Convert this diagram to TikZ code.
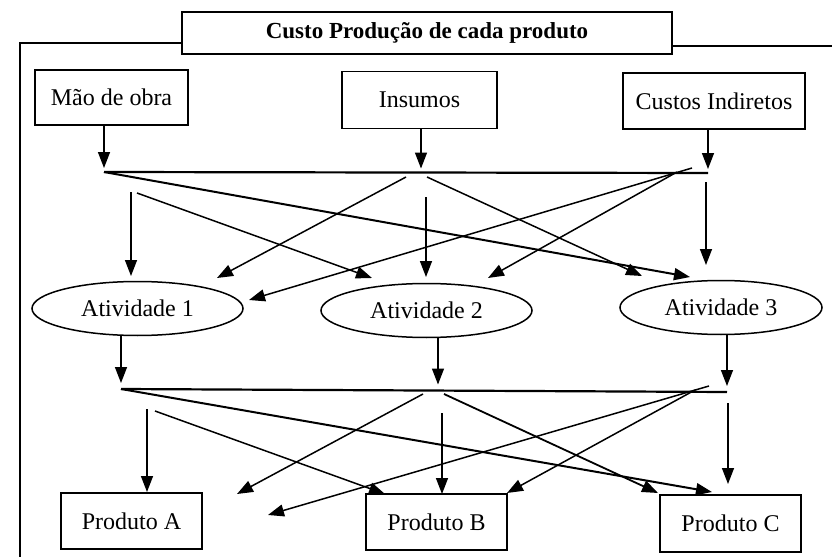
\documentclass[tikz,border=0pt]{standalone}
\usepackage{fontspec}
\setmainfont{Liberation Serif}
\usetikzlibrary{arrows.meta,shapes.geometric,positioning}

\tikzset{
	caixa/.style={draw, line width=0.75pt, inner sep=0pt},
	ativ/.style={draw, ellipse, line width=0.75pt, inner sep=0pt, minimum width=105.5pt, minimum height=27pt},
	seta/.style={-{Triangle[length=8pt,width=6pt]}, line width=0.75pt},
	barra/.style={line width=1.1pt}
}

\begin{document}
\begin{tikzpicture}[x=0.5pt, y=-0.5pt, font=\fontsize{12}{14}\selectfont]
			\useasboundingbox (0, 0) rectangle (832, 557);
			\node [caixa, minimum width=245pt, minimum height=21pt, font=\fontsize{11.5}{14}\selectfont\bfseries] (titulo) at (427, 33) {Custo Produção de cada produto};
			\coordinate (mold1) at (20, 557);
			\coordinate (mold2) at (20, 43);
			\coordinate (mold3) at (832, 46);
			\draw [line width=0.75pt] (mold1)--(mold2)--(mold2 -| titulo.west);
			\draw [line width=0.75pt] (mold3 -| titulo.east)--(mold3);

			\node [caixa, minimum width=76.5pt, minimum height=27.5pt] (mao) at (111.5, 97.5) {Mão de obra};
			\node [caixa, minimum width=77.5pt, minimum height=28.5pt] (insumos) at (419.5, 100) {Insumos};
			\node [caixa, minimum width=91pt, minimum height=28pt] (indiretos) at (714, 101) {Custos Indiretos};

			\node [ativ] (at1) at (137.5, 308.5) {Atividade 1};
			\node [ativ] (at2) at (426.5, 310.5) {Atividade 2};
			\node [ativ, minimum width=101pt] (at3) at (721, 307.5) {Atividade 3};

			\node [caixa, minimum width=70.5pt, minimum height=28pt] (pa) at (131.5, 521) {Produto A};
			\node [caixa, minimum width=70.5pt, minimum height=28pt] (pb) at (436.5, 522) {Produto B};
			\node [caixa, minimum width=70.5pt, minimum height=28.5pt] (pc) at (730.5, 523.5) {Produto C};

			\coordinate (b1a) at (104, 172);
			\coordinate (b1i) at (421, 172.5);
			\coordinate (b1b) at (708, 173);
			\draw [seta, shorten >=2pt] (mao.south -| b1a)--(b1a);
			\draw [seta, shorten >=2pt] (insumos.south -| b1i)--(b1i);
			\draw [seta, shorten >=2pt] (indiretos.south -| b1b)--(b1b);
			\draw [barra] (b1a)--(b1b);

			\coordinate (m1) at (131, 192);
			\coordinate (m2) at (137, 193);
			\coordinate (i1) at (406, 177);
			\coordinate (i2) at (426, 197);
			\coordinate (i3) at (427, 177);
			\coordinate (c1) at (692, 168);
			\coordinate (c2) at (677, 172);
			\coordinate (c3) at (706, 182);
			\coordinate (a1v) at (131, 276);
			\coordinate (a2d) at (372, 278);
			\coordinate (a3l) at (690, 277);
			\coordinate (a1i) at (217, 278);
			\coordinate (a2v) at (426, 277);
			\coordinate (a3i) at (642, 276);
			\coordinate (a1c) at (249, 300);
			\coordinate (a2c) at (488, 278);
			\coordinate (a3v) at (706, 265);
			\draw [seta, line width=1pt] (b1a)--(a3l);
			\draw [seta] (m1)--(a1v);
			\draw [seta] (m2)--(a2d);
			\draw [seta] (i1)--(a1i);
			\draw [seta] (i2)--(a2v);
			\draw [seta] (i3)--(a3i);
			\draw [seta] (c1)--(a1c);
			\draw [seta] (c2)--(a2c);
			\draw [seta] (c3)--(a3v);

			\coordinate (b2a) at (121, 389);
			\coordinate (b2i) at (438, 390.5);
			\coordinate (b2b) at (727, 392);
			\draw [seta, shorten >=3pt] (at1.south -| b2a)--(b2a);
			\draw [seta, shorten >=3pt] (at2.south -| b2i)--(b2i);
			\draw [seta, shorten >=3pt] (at3.south -| b2b)--(b2b);
			\draw [barra] (b2a)--(b2b);

			\coordinate (n1) at (147, 409);
			\coordinate (n2) at (155, 411);
			\coordinate (j1) at (423, 394);
			\coordinate (j2) at (442, 413);
			\coordinate (j3) at (444, 394);
			\coordinate (k1) at (709, 386);
			\coordinate (k2) at (695, 390);
			\coordinate (k3) at (728, 403);
			\coordinate (pav) at (147, 492);
			\coordinate (pbd) at (385, 494);
			\coordinate (pcl) at (712, 492);
			\coordinate (pai) at (237, 494);
			\coordinate (pbv) at (442, 494);
			\coordinate (pci) at (658, 493);
			\coordinate (pak) at (268, 515);
			\coordinate (pbk) at (507, 493);
			\coordinate (pcv) at (728, 484);
			\draw [seta, line width=1pt] (b2a)--(pcl);
			\draw [seta] (n1)--(pav);
			\draw [seta] (n2)--(pbd);
			\draw [seta] (j1)--(pai);
			\draw [seta] (j2)--(pbv);
			\draw [seta, line width=0.9pt] (j3)--(pci);
			\draw [seta] (k1)--(pak);
			\draw [seta] (k2)--(pbk);
			\draw [seta] (k3)--(pcv);
		\end{tikzpicture}
\end{document}
